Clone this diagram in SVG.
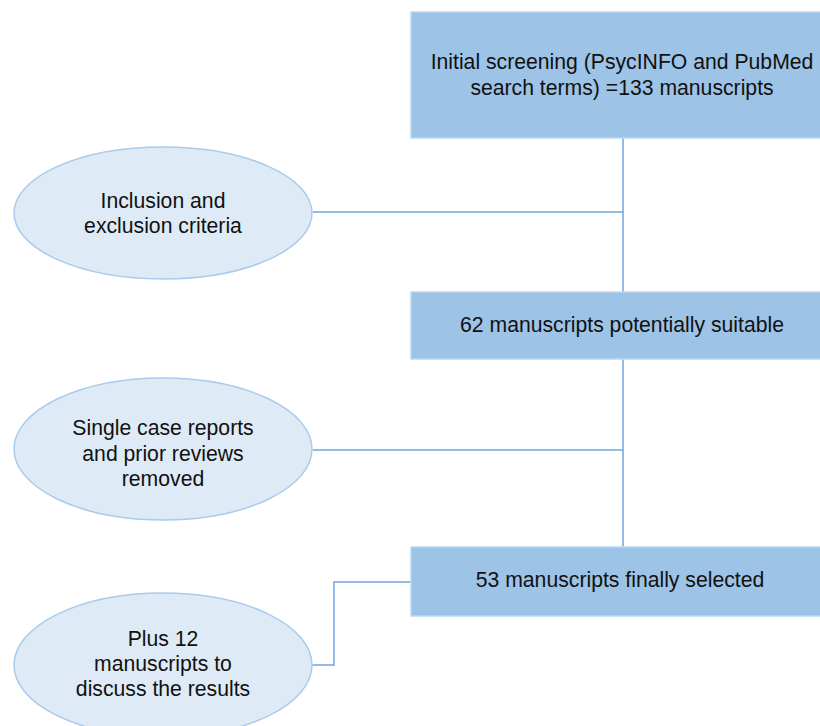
<svg xmlns="http://www.w3.org/2000/svg" width="820" height="726" viewBox="0 0 820 726">
<style>
.box{fill:#9DC3E6;stroke:#BDD7EE;stroke-width:1.5}
.ell{fill:#DEEAF6;stroke:#A9CBEB;stroke-width:1.5}
.t{font-family:"Liberation Sans",Arial,sans-serif;font-size:21.2px;fill:#111;text-anchor:middle}
.c{fill:none;stroke:#6FA6DC;stroke-width:1.5}
</style>
<rect width="820" height="726" fill="#fff"/>
<g id="connectors">
<line class="c" x1="623" y1="138" x2="623" y2="292"/>
<line class="c" x1="313" y1="212" x2="623" y2="212"/>
<line class="c" x1="623" y1="359" x2="623" y2="547"/>
<line class="c" x1="313" y1="450" x2="623" y2="450"/>
<polyline class="c" points="411,582 334,582 334,665 312,665"/>
</g>
<g id="n1">
<rect class="box" x="411" y="12" width="420" height="126"/>
<text class="t" x="622" y="69">Initial screening (PsycINFO and PubMed</text>
<text class="t" x="622" y="95">search terms) =133 manuscripts</text>
</g>
<g id="n2">
<rect class="box" x="411" y="292" width="420" height="67"/>
<text class="t" x="622" y="332">62 manuscripts potentially suitable</text>
</g>
<g id="n3">
<rect class="box" x="411" y="547" width="420" height="69"/>
<text class="t" x="620" y="587">53 manuscripts finally selected</text>
</g>
<g id="e1">
<ellipse class="ell" cx="163" cy="213" rx="149" ry="66"/>
<text class="t" x="163" y="208">Inclusion and</text>
<text class="t" x="163" y="233">exclusion criteria</text>
</g>
<g id="e2">
<ellipse class="ell" cx="163" cy="449" rx="149" ry="71"/>
<text class="t" x="163" y="435">Single case reports</text>
<text class="t" x="163" y="461">and prior reviews</text>
<text class="t" x="163" y="486">removed</text>
</g>
<g id="e3">
<ellipse class="ell" cx="163" cy="665" rx="149" ry="72"/>
<text class="t" x="163" y="646">Plus 12</text>
<text class="t" x="163" y="671">manuscripts to</text>
<text class="t" x="163" y="696">discuss the results</text>
</g>
</svg>
